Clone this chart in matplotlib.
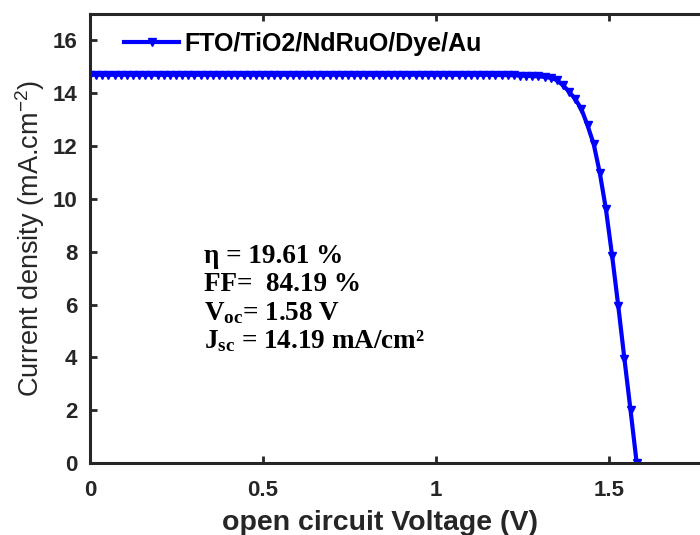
import matplotlib.pyplot as plt
import numpy as np

plt.rcParams['font.family'] = ['Liberation Sans', 'DejaVu Sans']
plt.rcParams['mathtext.fontset'] = 'custom'
plt.rcParams['mathtext.rm'] = 'Liberation Sans'
plt.rcParams['mathtext.it'] = 'Liberation Sans:italic'
plt.rcParams['mathtext.bf'] = 'Liberation Serif:bold'

# J-V data (V in volts, J in mA/cm2)
current = [
    14.70, 14.70, 14.70, 14.70, 14.70, 14.70, 14.70, 14.70, 14.70, 14.70,
    14.70, 14.70, 14.70, 14.70, 14.70, 14.70, 14.70, 14.70, 14.70, 14.70,
    14.70, 14.70, 14.70, 14.70, 14.70, 14.70, 14.70, 14.70, 14.70, 14.70,
    14.70, 14.70, 14.70, 14.70, 14.70, 14.70, 14.70, 14.70, 14.70, 14.70,
    14.70, 14.70, 14.70, 14.70, 14.70, 14.70, 14.70, 14.70, 14.70, 14.70,
    14.70, 14.70, 14.70, 14.70, 14.70, 14.70, 14.70, 14.70, 14.70, 14.70,
    14.70, 14.70, 14.70, 14.70, 14.70, 14.70, 14.69, 14.69, 14.69, 14.68,
    14.67, 14.66, 14.65, 14.64, 14.62, 14.58, 14.50, 14.30, 14.06, 13.78,
    13.40, 12.78, 12.08, 10.98, 9.60, 7.85, 5.95, 3.95, 2.00, 0.0,
]
voltage = np.linspace(0, 1.58, len(current))

label = 'FTO/TiO2/NdRuO/Dye/Au'
params = ['η = 19.61 %', 'FF=  84.19 %', r'$\mathbf{V_{oc}}$= 1.58 V',
          r'$\mathbf{J_{sc}}$ = 14.19 mA/cm²']

fig = plt.figure(figsize=(7.0, 5.35), dpi=100)
ax = fig.add_axes([90 / 700, 72 / 535, 692 / 700, 449 / 535])

ax.plot(voltage, current, color='#0000ff', linewidth=3, marker='v',
        markersize=5.5, label=label)

ax.set_xlim(0, 2)
ax.set_ylim(0, 17)
ax.set_xticks([0, 0.5, 1, 1.5])
ax.set_xticklabels(['0', '0.5', '1', '1.5'])
ax.set_yticks(np.arange(0, 17, 2))

dark = '#262626'
for s in ax.spines.values():
    s.set_linewidth(2.2)
    s.set_color(dark)
ax.tick_params(direction='in', length=5, width=2, top=True, right=True,
               labelsize=16, colors=dark)
ax.tick_params(axis='x', pad=12)
ax.tick_params(axis='y', pad=9)
for t in ax.get_xticklabels() + ax.get_yticklabels():
    t.set_fontweight('bold')

ax.set_xlabel('open circuit Voltage (V)', fontsize=20.5, fontweight='bold',
              color=dark)
ax.xaxis.set_label_coords((380 - 90) / 692, -0.105)
ax.set_ylabel(r'Current density (mA.cm$^{-2}$)', fontsize=19.5, color=dark,
              labelpad=4)

leg = ax.legend(loc='upper left', frameon=False, fontsize=18,
                handlelength=2.2, handletextpad=0.2,
                bbox_to_anchor=(0.017, 1.01))
for t in leg.get_texts():
    t.set_fontweight('bold')
    t.set_color('black')

for i, p in enumerate(params):
    ax.text(0.33, 7.83 - i * 1.07, p, fontsize=19.5, fontweight='bold',
            family=['Liberation Serif', 'DejaVu Serif'], color='black',
            va='center', ha='left')

fig.savefig('out.png', dpi=100)
